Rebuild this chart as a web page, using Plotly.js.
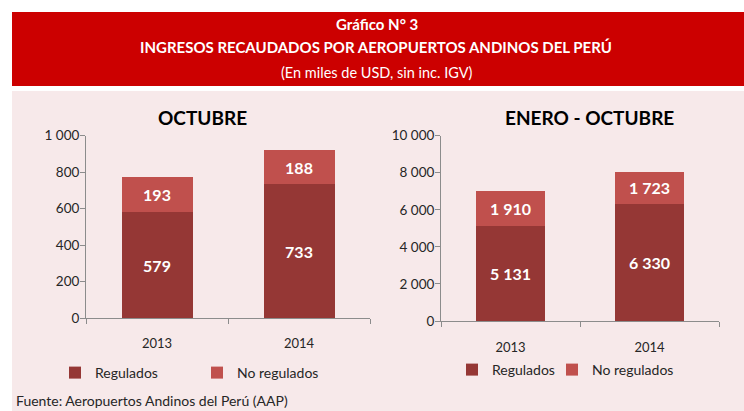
<!DOCTYPE html>
<html><head><meta charset="utf-8">
<script src="https://cdn.plot.ly/plotly-3.0.1.min.js"></script>
<style>html,body{margin:0;padding:0;background:#fff;} #chart{width:744px;height:411px;}</style>
</head><body><div id="chart"></div>
<script>
// ---- data ----
const years = ['2013', '2014'];
const octRegulados = [579, 733];
const octNoRegulados = [193, 188];
const eneOctRegulados = [5131, 6330];
const eneOctNoRegulados = [1910, 1723];
const seriesNames = ['Regulados', 'No regulados'];
const leftTitle = 'OCTUBRE';
const rightTitle = 'ENERO - OCTUBRE';
const headerLines = ['Gráfico N° 3', 'INGRESOS RECAUDADOS POR AEROPUERTOS ANDINOS DEL PERÚ', '(En miles de USD, sin inc. IGV)'];
const sourceNote = 'Fuente: Aeropuertos Andinos del Perú (AAP)';

// ---- layout helpers ----
const W = 744, H = 411;
const px = x => x / W, py = y => 1 - y / H;
const FONT = 'Lato, "Open Sans", sans-serif';
const DARK = '#953735', LIGHT = '#C0504D', TXT = '#262626', AX = '#8C8C8C';

function bar(x, y, name, color, xa, ya, lg) {
  return {
    type: 'bar', x: x, y: y, name: name, xaxis: xa, yaxis: ya, legend: lg, showlegend: true,
    marker: {color: color, line: {width: 0}}, width: 0.5,
    texttemplate: '%{y:,}', textposition: 'inside', insidetextanchor: 'middle',
    textangle: 0, constraintext: 'none',
    textfont: {family: FONT, size: 16, color: '#ffffff', weight: 'bold'},
    hoverinfo: 'skip'
  };
}

const data = [
  bar(years, octRegulados, seriesNames[0], DARK, 'x', 'y', 'legend'),
  bar(years, octNoRegulados, seriesNames[1], LIGHT, 'x', 'y', 'legend2'),
  bar(years, eneOctRegulados, seriesNames[0], DARK, 'x2', 'y2', 'legend3'),
  bar(years, eneOctNoRegulados, seriesNames[1], LIGHT, 'x2', 'y2', 'legend4')
];

const yBase = {
  showgrid: false, zeroline: false, showline: true, linecolor: AX, linewidth: 1,
  ticks: 'outside', ticklen: 5, tickcolor: AX, tickformat: ',d', ticklabelstandoff: -2,
  tickfont: {family: FONT, size: 13.5, color: TXT}, separatethousands: true, fixedrange: true
};
const xBase = {
  type: 'category', showgrid: false, zeroline: false, showline: true, linecolor: AX, linewidth: 1,
  ticks: 'outside', tickson: 'boundaries', ticklen: 5, tickcolor: AX,
  tickfont: {family: FONT, size: 13, color: TXT}, fixedrange: true
};
const legBase = {
  visible: true, orientation: 'h', xanchor: 'left', yanchor: 'middle', bgcolor: 'rgba(0,0,0,0)',
  font: {family: FONT, size: 14, color: TXT}, itemwidth: 30, traceorder: 'normal',
  itemclick: false, itemdoubleclick: false
};

const ann = [
  {text: '<b>' + headerLines[0] + '</b>', x: px(377), y: py(24), font: {size: 15, color: '#fff'}},
  {text: '<b>' + headerLines[1] + '</b>', x: px(376), y: py(47), font: {size: 15, color: '#fff'}},
  {text: headerLines[2], x: px(377), y: py(72), font: {size: 14.5, color: '#fff'}},
  {text: '<b>' + leftTitle + '</b>', x: px(202), y: py(118), font: {size: 19, color: '#000'}},
  {text: '<b>' + rightTitle + '</b>', x: px(589), y: py(118), font: {size: 19, color: '#000'}},
  {text: sourceNote, x: px(14), y: 0, xanchor: 'left', yanchor: 'bottom', font: {size: 14, color: TXT}}
].map(a => Object.assign({xref: 'paper', yref: 'paper', showarrow: false, xanchor: 'center', yanchor: 'middle'}, a, {font: Object.assign({family: FONT}, a.font)}));

const layout = {
  width: W, height: H, margin: {l: 0, r: 0, t: 0, b: 0},
  paper_bgcolor: '#ffffff', plot_bgcolor: 'rgba(0,0,0,0)', showlegend: true,
  barmode: 'stack', separators: ', ', font: {family: FONT, color: TXT},
  xaxis: Object.assign({}, xBase, {domain: [px(86), px(370)], anchor: 'y', ticklabelstandoff: 13}),
  yaxis: Object.assign({}, yBase, {domain: [py(318), py(135.7)], range: [0, 1000], dtick: 200, anchor: 'x'}),
  xaxis2: Object.assign({}, xBase, {domain: [px(441), px(719)], anchor: 'y2', ticklabelstandoff: 14}),
  yaxis2: Object.assign({}, yBase, {domain: [py(321), py(135.7)], range: [0, 10000], dtick: 2000, anchor: 'x2'}),
  legend: Object.assign({}, legBase, {x: px(55), y: py(373)}),
  legend2: Object.assign({}, legBase, {x: px(197), y: py(373)}),
  legend3: Object.assign({}, legBase, {x: px(452), y: py(370)}),
  legend4: Object.assign({}, legBase, {x: px(552), y: py(370)}),
  shapes: [
    {type: 'rect', xref: 'paper', yref: 'paper', x0: px(12), x1: 1, y0: py(86), y1: py(12), fillcolor: '#CC0000', line: {width: 0}, layer: 'below'},
    {type: 'rect', xref: 'paper', yref: 'paper', x0: px(12), x1: 1, y0: 0, y1: py(91), fillcolor: '#F7E9EA', line: {width: 0}, layer: 'below'}
  ],
  annotations: ann
};

Plotly.newPlot('chart', data, layout, {displayModeBar: false, staticPlot: true});
</script>
</body></html>
